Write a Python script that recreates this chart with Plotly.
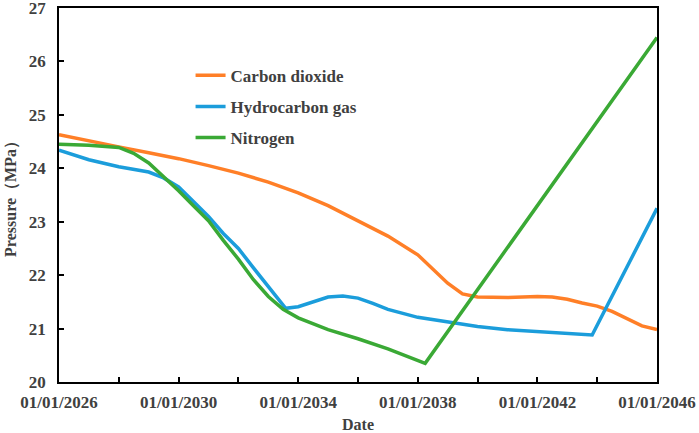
import plotly.graph_objects as go

# Carbon dioxide
co2_dates = ["2026-01-01", "2027-01-01", "2028-01-01", "2029-01-01", "2030-01-01",
             "2031-01-01", "2032-01-01", "2033-01-01", "2034-01-01", "2035-01-01",
             "2036-01-01", "2037-01-01", "2038-01-01", "2038-07-01", "2039-01-01",
             "2039-07-01", "2040-01-01", "2041-01-01", "2042-01-01", "2042-07-01",
             "2043-01-01", "2043-07-01", "2044-01-01", "2044-07-01", "2045-01-01",
             "2045-07-01", "2046-01-01"]
co2_pressure = [24.63, 24.51, 24.40, 24.29, 24.18, 24.05, 23.91, 23.74, 23.54, 23.30,
                23.02, 22.73, 22.38, 22.12, 21.85, 21.65, 21.59, 21.58, 21.60, 21.59,
                21.55, 21.48, 21.42, 21.32, 21.18, 21.05, 20.98]

# Hydrocarbon gas
hc_dates = ["2026-01-01", "2027-01-01", "2028-01-01", "2029-01-01", "2029-07-01",
            "2030-01-01", "2030-07-01", "2031-01-01", "2031-07-01", "2032-01-01",
            "2032-07-01", "2033-01-01", "2033-08-01", "2034-01-01", "2034-07-01",
            "2035-01-01", "2035-07-01", "2036-01-01", "2036-07-01", "2037-01-01",
            "2038-01-01", "2039-01-01", "2040-01-01", "2041-01-01", "2042-01-01",
            "2043-01-01", "2043-11-01", "2046-01-01"]
hc_pressure = [24.34, 24.16, 24.03, 23.93, 23.82, 23.65, 23.38, 23.10, 22.78, 22.50,
               22.14, 21.78, 21.38, 21.41, 21.50, 21.59, 21.61, 21.57, 21.47, 21.36,
               21.21, 21.12, 21.04, 20.98, 20.95, 20.92, 20.88, 23.25]

# Nitrogen
n2_dates = ["2026-01-01", "2027-01-01", "2028-01-01", "2028-07-01", "2029-01-01",
            "2029-07-01", "2030-01-01", "2030-07-01", "2031-01-01", "2031-07-01",
            "2032-01-01", "2032-07-01", "2033-01-01", "2033-07-01", "2034-01-01",
            "2035-01-01", "2036-01-01", "2037-01-01", "2038-04-01", "2046-01-01"]
n2_pressure = [24.45, 24.43, 24.39, 24.28, 24.10, 23.85, 23.58, 23.30, 23.02, 22.65,
               22.30, 21.92, 21.60, 21.36, 21.20, 20.98, 20.81, 20.62, 20.35, 26.45]

tick_dates = ["2026-01-01", "2028-01-01", "2030-01-01", "2032-01-01", "2034-01-01",
              "2036-01-01", "2038-01-01", "2040-01-01", "2042-01-01", "2044-01-01",
              "2046-01-01"]
tick_text = ["01/01/2026", "", "01/01/2030", "", "01/01/2034", "",
             "01/01/2038", "", "01/01/2042", "", "01/01/2046"]
y_ticks = [20, 21, 22, 23, 24, 25, 26, 27]

serif = "Liberation Serif, Times New Roman, serif"
grey = "#404040"

fig = go.Figure()
fig.add_trace(go.Scatter(x=co2_dates, y=co2_pressure, mode="lines", name="Carbon dioxide",
                         legendgroup="a", line=dict(color="#FF7F27", width=3.5)))
fig.add_trace(go.Scatter(x=hc_dates, y=hc_pressure, mode="lines", name="Hydrocarbon gas",
                         legendgroup="b", line=dict(color="#1B9DDB", width=3.5)))
fig.add_trace(go.Scatter(x=n2_dates, y=n2_pressure, mode="lines", name="Nitrogen",
                         legendgroup="c", line=dict(color="#3AA935", width=3.5)))

fig.update_layout(
    width=699, height=433,
    margin=dict(l=59, r=42, t=8, b=51),
    plot_bgcolor="white", paper_bgcolor="white",
    font=dict(family=serif, size=16, color=grey),
    legend=dict(x=0.22, y=0.867, xanchor="left", yanchor="top",
                bgcolor="rgba(0,0,0,0)", tracegroupgap=6, traceorder="grouped",
                font=dict(family=serif, size=17, color=grey, weight="bold")),
    showlegend=True,
)
fig.update_xaxes(
    type="date", range=["2026-01-01", "2046-01-01"], automargin=False,
    tickmode="array", tickvals=tick_dates, ticktext=tick_text,
    ticklabeloverflow="allow", ticklabelstandoff=4,
    ticks="inside", ticklen=5, tickcolor="black", tickwidth=1.5,
    showline=True, linecolor="black", linewidth=1.5, mirror=True,
    showgrid=False, zeroline=False,
    tickfont=dict(family=serif, size=17, color=grey, weight="bold"),
    title=dict(text="Date", standoff=9,
               font=dict(family=serif, size=16, color=grey, weight="bold")),
)
fig.update_yaxes(
    range=[20, 27], tickmode="array", tickvals=y_ticks,
    automargin=False, ticklabelstandoff=8, ticklabeloverflow="allow",
    ticks="inside", ticklen=5, tickcolor="black", tickwidth=1.5,
    showline=True, linecolor="black", linewidth=1.5, mirror=True,
    showgrid=False, zeroline=False,
    tickfont=dict(family=serif, size=17, color=grey, weight="bold"),
    title=dict(text="Pressure（MPa）", standoff=8,
               font=dict(family=serif, size=16, color=grey, weight="bold")),
)

# the page body has an 8px margin by default; drop it so the chart sits at 0,0
fig.write_html("out.html", config={"displayModeBar": False},
               post_script="document.body.style.margin='0px';")
